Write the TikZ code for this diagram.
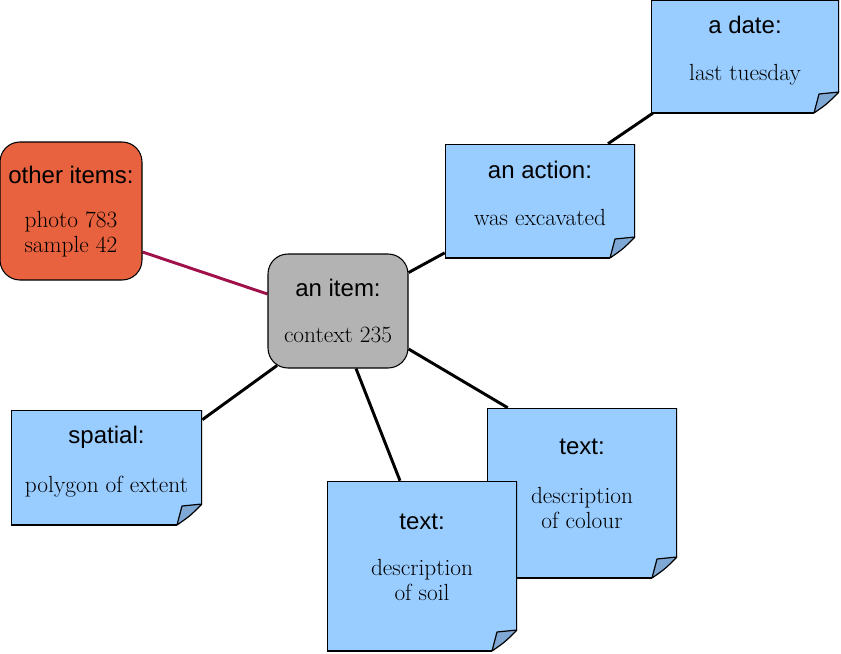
\documentclass[tikz,border=0pt]{standalone}
\usepackage{fontspec}
\newfontfamily\titlefont{Liberation Sans}
\usetikzlibrary{calc,backgrounds}
\definecolor{note_blue}{HTML}{99CCFF}
\definecolor{note_fold}{HTML}{7FA8D4}
\definecolor{item_grey}{HTML}{B3B3B3}
\definecolor{other_red}{HTML}{E8623F}
\definecolor{other_line}{HTML}{A0104A}
\begin{document}
\begin{tikzpicture}[x=0.75pt,y=-0.75pt,
	note_node/.style={rectangle,inner sep=0pt,path picture={
		\coordinate (nw) at (path picture bounding box.north west);
		\coordinate (se) at (path picture bounding box.south east);
		\fill[note_blue] (nw) -- (nw -| se) -- ($(se)+(0,-21)$) .. controls ($(se)+(-12,-9)$) .. ($(se)+(-25,0)$) -- (nw |- se) -- cycle;
		\fill[note_fold] ($(se)+(-25,0)$) -- ($(se)+(-20,-19)$) -- ($(se)+(0,-21)$) .. controls ($(se)+(-12,-9)$) .. cycle;
		\draw[line width=1.8pt] ($(se)+(0,-21)$) -- (nw -| se) -- (nw) -- (nw |- se) -- ($(se)+(-25,0)$);
		\draw[line width=0.9pt,line join=round] ($(se)+(-25,0)$) -- ($(se)+(-20,-19)$) -- ($(se)+(0,-21)$) .. controls ($(se)+(-12,-9)$) .. ($(se)+(-25,0)$);}},
	round_node/.style={rectangle,rounded corners=15pt,draw,line width=0.8pt,inner sep=0pt},
	title_text/.style={font=\titlefont\fontsize{18}{21}\selectfont,inner sep=0pt},
	body_text/.style={font=\fontsize{17.5}{18.75}\selectfont,align=center,inner sep=0pt},
	link/.style={line width=2.2pt}]

	\useasboundingbox (0,0) rectangle (841,653);

	\node[note_node,minimum width=141pt,minimum height=84.75pt] (date) at (745,56.5) {};
	\node[title_text] (date_title) at ($(date.north)+(0,25)$) {a date:};
	\node[body_text] (date_body) at ($(date.north)+(0,75)$) {last tuesday};

	\node[note_node,minimum width=142.5pt,minimum height=85.5pt] (action) at (540,201) {};
	\node[title_text] (action_title) at ($(action.north)+(0,26)$) {an action:};
	\node[body_text] (action_body) at ($(action.north)+(0,74)$) {was excavated};

	\node[round_node,fill=other_red,minimum width=106.5pt,minimum height=103.5pt] (other) at (71,211) {};
	\node[title_text] (other_title) at ($(other.north)+(0,33)$) {other items:};
	\node[body_text] (other_body) at ($(other.north)+(0,92.5)$) {photo 783\\sample 42};

	\node[round_node,fill=item_grey,minimum width=105pt,minimum height=85.5pt] (item) at (338,311) {};
	\node[title_text] (item_title) at ($(item.north)+(0,34)$) {an item:};
	\node[body_text] (item_body) at ($(item.north)+(0,82)$) {context 235};

	\node[note_node,minimum width=143.25pt,minimum height=86.25pt] (spatial) at (106.5,467.5) {};
	\node[title_text] (spatial_title) at ($(spatial.north)+(0,28)$) {spatial:};
	\node[body_text] (spatial_body) at ($(spatial.north)+(0,77)$) {polygon of extent};

	\node[note_node,minimum width=142.5pt,minimum height=127.5pt] (colour) at (582,493) {};
	\node[title_text] (colour_title) at ($(colour.north)+(0,39)$) {text:};
	\node[body_text] (colour_body) at ($(colour.north)+(0,100.5)$) {description\\of colour};

	\node[note_node,minimum width=142.5pt,minimum height=127.5pt] (soil) at (422,566) {};
	\node[title_text] (soil_title) at ($(soil.north)+(0,41)$) {text:};
	\node[body_text] (soil_body) at ($(soil.north)+(0,99.5)$) {description\\of soil};

	% connectors behind the boxes
	\begin{scope}[on background layer]
		\draw[link] (item) -- (action);
		\draw[link] ($(action.north)+(68,0)$) -- ($(date.south west)+(2,0)$);
		\draw[link,draw=other_line] ($(other.east)+(0,41)$) -- ($(item.west)+(0,-17)$);
		\draw[link] ($(item.south)+(-61,-3)$) -- ($(spatial.north east)+(0,10)$);
		\draw[link] ($(item.south)+(18,0)$) -- ($(soil.north)+(-22,0)$);
		\draw[link] ($(item.east)+(0,38)$) -- ($(colour.north west)+(21,0)$);
	\end{scope}
\end{tikzpicture}
\end{document}
